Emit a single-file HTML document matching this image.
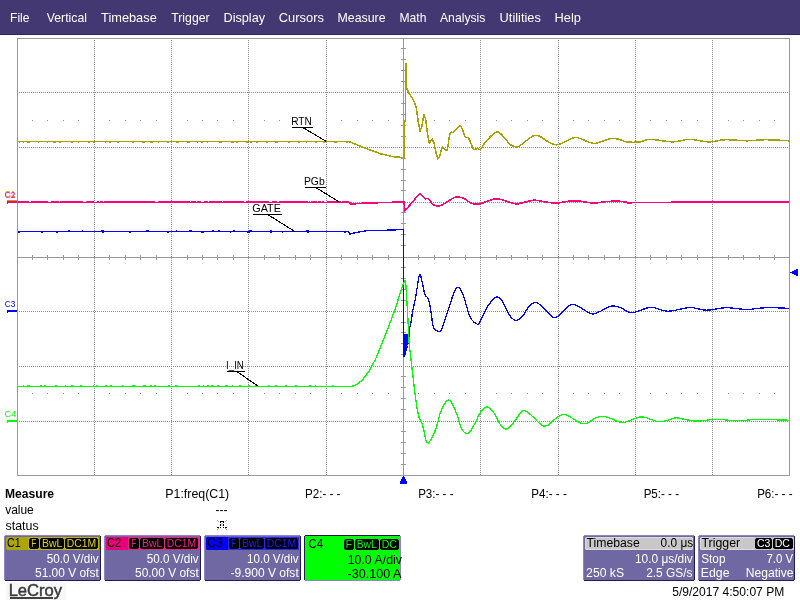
<!DOCTYPE html>
<html><head><meta charset="utf-8"><style>
html,body{margin:0;padding:0;background:#fff;width:800px;height:600px;overflow:hidden}
svg{position:absolute;left:0;top:0;display:block;will-change:transform}
text{font-family:"Liberation Sans", sans-serif;white-space:pre}
</style></head><body>
<svg width="800" height="600" viewBox="0 0 800 600">
<rect x="0" y="0" width="800" height="34" fill="#433872"/>
<rect x="0" y="34" width="800" height="1" fill="#2d2264"/>
<path d="M94.5 40V475 M171.5 40V475 M248.5 40V475 M326.5 40V475 M480.5 40V475 M558.5 40V475 M635.5 40V475 M712.5 40V475 M19 92.5H789 M19 147.5H789 M19 202.5H789 M19 311.5H789 M19 366.5H789 M19 421.5H789" stroke="#8a8a8a" stroke-width="1" stroke-dasharray="1 1" fill="none"/>
<path d="M32 120h1v1h-1z M47 120h1v1h-1z M63 120h1v1h-1z M78 120h1v1h-1z M109 120h1v1h-1z M125 120h1v1h-1z M140 120h1v1h-1z M156 120h1v1h-1z M187 120h1v1h-1z M202 120h1v1h-1z M217 120h1v1h-1z M233 120h1v1h-1z M264 120h1v1h-1z M279 120h1v1h-1z M295 120h1v1h-1z M310 120h1v1h-1z M341 120h1v1h-1z M357 120h1v1h-1z M372 120h1v1h-1z M388 120h1v1h-1z M418 120h1v1h-1z M434 120h1v1h-1z M449 120h1v1h-1z M465 120h1v1h-1z M496 120h1v1h-1z M511 120h1v1h-1z M527 120h1v1h-1z M542 120h1v1h-1z M573 120h1v1h-1z M588 120h1v1h-1z M604 120h1v1h-1z M619 120h1v1h-1z M650 120h1v1h-1z M666 120h1v1h-1z M681 120h1v1h-1z M697 120h1v1h-1z M728 120h1v1h-1z M743 120h1v1h-1z M759 120h1v1h-1z M774 120h1v1h-1z M32 393h1v1h-1z M47 393h1v1h-1z M63 393h1v1h-1z M78 393h1v1h-1z M109 393h1v1h-1z M125 393h1v1h-1z M140 393h1v1h-1z M156 393h1v1h-1z M187 393h1v1h-1z M202 393h1v1h-1z M217 393h1v1h-1z M233 393h1v1h-1z M264 393h1v1h-1z M279 393h1v1h-1z M295 393h1v1h-1z M310 393h1v1h-1z M341 393h1v1h-1z M357 393h1v1h-1z M372 393h1v1h-1z M388 393h1v1h-1z M418 393h1v1h-1z M434 393h1v1h-1z M449 393h1v1h-1z M465 393h1v1h-1z M496 393h1v1h-1z M511 393h1v1h-1z M527 393h1v1h-1z M542 393h1v1h-1z M573 393h1v1h-1z M588 393h1v1h-1z M604 393h1v1h-1z M619 393h1v1h-1z M650 393h1v1h-1z M666 393h1v1h-1z M681 393h1v1h-1z M697 393h1v1h-1z M728 393h1v1h-1z M743 393h1v1h-1z M759 393h1v1h-1z M774 393h1v1h-1z" fill="#8a8a8a"/>
<rect x="403" y="38" width="1" height="437" fill="#999"/>
<rect x="17" y="257" width="772" height="1" fill="#999"/>
<path d="M32 255h1v5h-1z M47 255h1v5h-1z M63 255h1v5h-1z M78 255h1v5h-1z M109 255h1v5h-1z M125 255h1v5h-1z M140 255h1v5h-1z M156 255h1v5h-1z M187 255h1v5h-1z M202 255h1v5h-1z M217 255h1v5h-1z M233 255h1v5h-1z M264 255h1v5h-1z M279 255h1v5h-1z M295 255h1v5h-1z M310 255h1v5h-1z M341 255h1v5h-1z M357 255h1v5h-1z M372 255h1v5h-1z M388 255h1v5h-1z M418 255h1v5h-1z M434 255h1v5h-1z M449 255h1v5h-1z M465 255h1v5h-1z M496 255h1v5h-1z M511 255h1v5h-1z M527 255h1v5h-1z M542 255h1v5h-1z M573 255h1v5h-1z M588 255h1v5h-1z M604 255h1v5h-1z M619 255h1v5h-1z M650 255h1v5h-1z M666 255h1v5h-1z M681 255h1v5h-1z M697 255h1v5h-1z M728 255h1v5h-1z M743 255h1v5h-1z M759 255h1v5h-1z M774 255h1v5h-1z M401 48h5v1h-5z M401 59h5v1h-5z M401 70h5v1h-5z M401 81h5v1h-5z M401 103h5v1h-5z M401 114h5v1h-5z M401 125h5v1h-5z M401 136h5v1h-5z M401 158h5v1h-5z M401 169h5v1h-5z M401 180h5v1h-5z M401 190h5v1h-5z M401 212h5v1h-5z M401 223h5v1h-5z M401 234h5v1h-5z M401 245h5v1h-5z M401 267h5v1h-5z M401 278h5v1h-5z M401 289h5v1h-5z M401 300h5v1h-5z M401 322h5v1h-5z M401 332h5v1h-5z M401 343h5v1h-5z M401 354h5v1h-5z M401 376h5v1h-5z M401 387h5v1h-5z M401 398h5v1h-5z M401 409h5v1h-5z M401 431h5v1h-5z M401 442h5v1h-5z M401 453h5v1h-5z M401 464h5v1h-5z" fill="#999"/>
<rect x="17.5" y="38.5" width="772" height="437" fill="none" stroke="#999" stroke-width="1"/>
<rect x="18" y="141" width="332" height="1" fill="#aaa000"/><path d="M19 142h1v1h-1z M23 142h1v1h-1z M27 142h3v1h-3z M38 142h1v1h-1z M47 142h1v1h-1z M53 142h3v1h-3z M59 142h2v1h-2z M71 142h2v1h-2z M78 142h1v1h-1z M88 142h2v1h-2z M93 142h2v1h-2z M105 142h1v1h-1z M109 142h2v1h-2z M117 142h2v1h-2z M132 142h2v1h-2z M142 142h3v1h-3z M150 142h3v1h-3z M158 142h1v1h-1z M167 142h2v1h-2z M176 142h3v1h-3z M187 142h3v1h-3z M197 142h1v1h-1z M201 142h2v1h-2z M207 142h1v1h-1z M219 142h3v1h-3z M231 142h3v1h-3z M236 142h2v1h-2z M246 142h2v1h-2z M250 142h2v1h-2z M256 142h2v1h-2z M266 142h2v1h-2z M275 142h3v1h-3z M288 142h2v1h-2z M298 142h2v1h-2z M306 142h1v1h-1z M315 142h2v1h-2z M323 142h2v1h-2z M334 142h3v1h-3z M346 142h2v1h-2z" fill="#aaa000"/>
<polyline points="349.70,141.80 361.90,146.90 380.60,153.80 393.75,156.80 403.50,157.50 404.50,157.50 404.50,121.00 405.50,121.00 405.50,64.00 406.20,64.00 406.20,82.00 406.80,88.75 409.70,94.40 413.40,100.00 416.25,107.50 418.10,120.60 420.00,131.00 421.90,126.25 423.75,114.60 425.60,118.75 427.50,133.75 429.40,143.10 432.20,139.00 434.00,143.00 436.00,152.50 437.80,159.00 439.70,156.25 442.10,147.40 442.67,147.03 443.23,147.46 443.79,148.20 444.40,148.75 445.06,149.41 445.77,150.31 446.49,150.66 447.20,149.70 447.88,146.57 448.54,141.90 449.23,137.14 450.00,133.75 450.83,132.39 451.70,132.18 452.66,132.30 453.75,131.90 455.10,130.56 456.63,128.79 458.14,127.16 459.40,126.25 460.30,126.23 460.98,126.80 461.57,127.77 462.20,129.00 462.88,130.69 463.54,132.86 464.23,134.99 465.00,136.60 465.85,137.26 466.76,137.33 467.73,137.48 468.75,138.40 469.86,140.63 471.06,143.70 472.26,146.71 473.40,148.75 474.46,149.41 475.49,149.22 476.47,148.74 477.40,148.50 478.20,148.83 478.91,149.38 479.66,149.69 480.60,149.30 481.67,147.97 482.84,145.99 484.23,143.69 486.00,141.40 488.36,138.79 491.18,135.83 494.05,133.27 496.60,131.90 498.70,132.14 500.56,133.49 502.30,135.38 504.00,137.20 505.65,139.03 507.20,141.10 508.75,143.07 510.40,144.60 512.18,145.68 514.03,146.47 515.92,146.86 517.80,146.75 519.63,145.95 521.46,144.57 523.31,142.94 525.25,141.40 527.35,139.85 529.57,138.17 531.75,136.68 533.75,135.70 535.46,135.35 536.99,135.44 538.48,135.86 540.10,136.50 541.90,137.48 543.78,138.80 545.71,140.20 547.60,141.40 549.48,142.42 551.37,143.37 553.22,144.14 555.00,144.60 556.52,144.76 557.87,144.67 559.38,144.30 561.40,143.60 564.28,142.29 567.75,140.47 571.22,138.72 574.10,137.60 576.04,137.30 577.43,137.51 578.75,138.04 580.50,138.70 582.95,139.63 585.80,140.87 588.65,142.07 591.10,142.90 592.85,143.29 594.17,143.43 595.55,143.29 597.50,142.90 600.34,142.03 603.74,140.76 607.21,139.51 610.25,138.70 612.67,138.46 614.77,138.57 616.72,138.89 618.75,139.30 620.78,139.89 622.73,140.69 624.83,141.47 627.25,142.00 630.20,142.23 633.52,142.28 636.89,142.17 640.00,141.90 642.45,141.30 644.50,140.43 646.86,139.64 650.20,139.30 655.05,139.71 660.93,140.60 667.01,141.49 672.50,141.90 677.07,141.49 681.20,140.60 685.23,139.71 689.50,139.30 694.18,139.70 699.05,140.58 703.92,141.47 708.60,141.90 712.90,141.61 716.96,140.89 721.10,140.13 725.60,139.70 730.67,139.79 736.12,140.18 741.63,140.60 746.90,140.80 751.74,140.63 756.34,140.25 761.00,139.87 766.00,139.70 772.01,139.85 778.69,140.18 784.78,140.55 789.00,140.80" fill="none" stroke="#aaa000" stroke-width="1.5" stroke-linejoin="round" shape-rendering="crispEdges"/>
<rect x="18" y="201" width="331" height="2" fill="#ff0080"/><path d="M29 201h2v1h-2z M48 201h3v1h-3z M59 201h1v1h-1z M83 201h3v1h-3z M94 201h3v1h-3z M99 201h1v1h-1z M103 201h1v1h-1z M155 201h3v1h-3z M190 201h1v1h-1z M196 201h1v1h-1z M201 201h3v1h-3z M208 201h1v1h-1z M222 201h1v1h-1z M244 201h2v1h-2z M269 201h3v1h-3z M277 201h2v1h-2z M308 201h1v1h-1z M310 201h1v1h-1z M317 201h1v1h-1z M321 201h1v1h-1z M324 201h3v1h-3z M341 201h1v1h-1z" fill="#ffffff"/>
<polyline points="348.75,202.00 351.00,204.00 367.50,203.00 403.00,202.00 404.00,202.00 405.00,210.90 418.10,195.30 419.52,193.92 420.14,193.62 420.46,193.93 421.00,194.40 421.87,195.16 422.80,196.36 423.76,197.61 424.70,198.50 425.58,198.75 426.43,198.63 427.34,198.57 428.40,199.00 429.64,200.24 431.02,201.99 432.49,203.75 434.00,205.00 435.54,205.66 437.13,205.99 438.80,205.97 440.60,205.60 442.62,204.71 444.80,203.35 446.98,201.87 449.00,200.60 450.76,199.54 452.36,198.53 453.93,197.71 455.60,197.20 457.41,197.03 459.29,197.14 461.20,197.51 463.10,198.10 465.01,199.09 466.96,200.42 468.84,201.77 470.60,202.80 472.21,203.40 473.71,203.77 475.10,203.97 476.40,204.10 477.41,204.20 478.20,204.22 479.13,204.08 480.60,203.70 482.93,202.93 485.85,201.84 488.81,200.74 491.25,199.90 492.91,199.37 494.13,199.02 495.24,198.83 496.60,198.80 498.23,198.95 499.97,199.27 501.88,199.73 504.00,200.30 506.57,201.10 509.49,202.09 512.32,203.04 514.60,203.70 515.97,204.00 516.75,204.08 517.53,203.97 518.90,203.70 521.21,203.17 524.07,202.39 527.00,201.60 529.50,201.00 531.25,200.62 532.57,200.35 533.96,200.23 535.90,200.30 538.73,200.66 542.12,201.27 545.57,201.91 548.60,202.40 550.92,202.72 552.84,202.96 554.77,203.07 557.10,203.00 560.10,202.64 563.50,202.04 566.90,201.42 569.90,201.00 572.18,200.81 574.02,200.75 575.93,200.81 578.40,201.00 581.72,201.44 585.56,202.09 589.54,202.69 593.25,203.00 596.59,202.87 599.76,202.45 602.86,201.96 606.00,201.60 609.19,201.38 612.38,201.21 615.56,201.13 618.75,201.20 622.04,201.53 625.39,202.06 628.61,202.58 631.50,202.90 630.63,202.93 627.23,202.78 628.10,202.56 640.00,202.40 670.86,202.30 715.03,202.22 758.93,202.15 789.00,202.10" fill="none" stroke="#ff0080" stroke-width="1.6" stroke-linejoin="round" shape-rendering="crispEdges"/>
<rect x="18" y="231" width="331" height="1" fill="#0000ff"/><path d="M68 230h2v1h-2z M82 230h1v1h-1z M101 230h3v1h-3z M146 230h3v1h-3z M176 230h1v1h-1z M189 230h3v1h-3z M212 230h2v1h-2z M218 230h2v1h-2z M233 230h2v1h-2z M249 230h3v1h-3z M270 230h2v1h-2z M306 230h3v1h-3z" fill="#0000ff"/>
<rect x="18" y="231" width="331" height="1" fill="#0000ff"/><path d="M18 232h2v1h-2z M41 232h2v1h-2z M56 232h2v1h-2z M102 232h2v1h-2z M129 232h2v1h-2z M167 232h2v1h-2z M201 232h3v1h-3z M230 232h1v1h-1z M247 232h3v1h-3z M270 232h2v1h-2z M282 232h1v1h-1z M307 232h2v1h-2z M344 232h2v1h-2z" fill="#0000ff"/>
<polyline points="348.75,232.00 349.70,234.25 356.25,232.40 367.50,230.70 395.60,229.90 403.50,229.30 403.90,356.50 404.50,356.50 406.00,350.50 407.50,345.50 409.00,337.50 409.00,334.50 409.70,334.50 409.70,327.20 410.80,323.80 412.50,312.20 413.09,309.24 413.75,306.25 414.41,303.31 415.00,300.50 415.46,298.00 415.85,295.71 416.24,293.31 416.70,290.50 417.29,286.73 417.96,282.32 418.62,278.26 419.20,275.50 419.66,274.43 420.05,274.49 420.41,275.26 420.80,276.30 421.20,277.63 421.59,279.43 422.02,281.54 422.50,283.80 423.05,286.40 423.65,289.34 424.30,292.19 425.00,294.50 425.79,295.90 426.65,296.70 427.51,297.53 428.30,299.00 428.98,301.27 429.60,304.00 430.19,307.11 430.80,310.50 431.40,314.58 431.99,319.25 432.61,323.67 433.30,327.00 434.07,328.86 434.90,329.76 435.78,330.15 436.70,330.50 437.69,331.01 438.75,331.41 439.81,331.43 440.80,330.80 441.67,329.41 442.47,327.41 443.29,324.95 444.20,322.20 445.19,319.18 446.22,315.81 447.38,312.09 448.75,308.00 450.45,302.82 452.39,296.80 454.39,291.38 456.25,288.00 457.87,287.05 459.38,287.77 460.88,289.85 462.50,293.00 464.29,298.00 466.17,304.72 468.10,311.52 470.00,316.75 471.99,320.01 474.06,322.16 475.98,323.48 477.50,324.25 478.39,324.51 478.83,324.11 479.23,323.10 480.00,321.50 481.38,318.93 483.11,315.50 484.85,312.01 486.25,309.25 487.08,307.60 487.58,306.57 488.10,305.70 489.00,304.50 490.47,302.58 492.30,300.29 494.22,298.25 496.00,297.10 497.55,296.94 499.00,297.46 500.45,298.65 502.00,300.50 503.68,303.44 505.44,307.34 507.23,311.31 509.00,314.50 510.75,316.82 512.50,318.69 514.25,319.96 516.00,320.50 517.77,320.12 519.56,318.94 521.32,317.29 523.00,315.50 524.55,313.41 526.00,310.94 527.45,308.49 529.00,306.50 530.66,304.91 532.38,303.56 534.16,302.68 536.00,302.50 537.91,303.24 539.88,304.71 541.91,306.58 544.00,308.50 546.25,310.71 548.62,313.27 550.94,315.61 553.00,317.10 554.64,317.59 556.00,317.40 557.36,316.66 559.00,315.50 561.11,313.61 563.50,311.02 565.89,308.43 568.00,306.50 569.66,305.37 571.06,304.69 572.43,304.41 574.00,304.50 575.81,305.05 577.75,306.04 579.81,307.26 582.00,308.50 584.41,309.93 587.00,311.60 589.59,313.07 592.00,313.90 594.07,313.92 595.94,313.38 597.84,312.49 600.00,311.50 602.59,310.20 605.44,308.56 608.32,307.04 611.00,306.10 613.39,305.90 615.62,306.18 617.80,306.77 620.00,307.50 622.30,308.54 624.62,309.90 626.89,311.21 629.00,312.10 630.70,312.49 632.11,312.58 633.72,312.37 636.00,311.90 639.19,310.86 643.00,309.34 647.12,307.95 651.25,307.30 655.28,307.88 659.38,309.25 663.66,310.65 668.25,311.30 673.36,310.75 678.88,309.48 684.39,308.18 689.50,307.50 694.00,307.84 698.13,308.77 702.20,309.74 706.50,310.20 711.08,309.84 715.78,309.01 720.62,308.15 725.60,307.70 730.82,307.91 736.25,308.50 741.68,309.12 746.90,309.40 751.74,309.16 756.34,308.62 761.00,308.04 766.00,307.70 772.01,307.70 778.69,307.89 784.78,308.14 789.00,308.30" fill="none" stroke="#0000ff" stroke-width="1.3" stroke-linejoin="round" shape-rendering="crispEdges"/>
<path d="M404 334H409V337L407.5 345L406 350L405 356H404Z" fill="#0000ff"/>
<rect x="18" y="386" width="335" height="1" fill="#00ff00"/><path d="M23 385h1v1h-1z M27 385h3v1h-3z M40 385h2v1h-2z M44 385h1v1h-1z M55 385h2v1h-2z M65 385h1v1h-1z M71 385h2v1h-2z M80 385h2v1h-2z M93 385h1v1h-1z M96 385h1v1h-1z M105 385h2v1h-2z M110 385h2v1h-2z M122 385h1v1h-1z M132 385h3v1h-3z M143 385h3v1h-3z M150 385h2v1h-2z M154 385h2v1h-2z M168 385h2v1h-2z M175 385h2v1h-2z M198 385h2v1h-2z M203 385h1v1h-1z M207 385h2v1h-2z M211 385h2v1h-2z M217 385h2v1h-2z M225 385h3v1h-3z M232 385h1v1h-1z M239 385h2v1h-2z M248 385h2v1h-2z M255 385h2v1h-2z M268 385h1v1h-1z M275 385h2v1h-2z M285 385h2v1h-2z M295 385h2v1h-2z M309 385h2v1h-2z M315 385h1v1h-1z M332 385h1v1h-1z M352 385h3v1h-3z" fill="#00ff00"/>
<polyline points="352.75,386.50 357.10,384.25 362.50,379.90 369.00,371.25 375.50,359.30 382.00,343.10 388.50,326.80 395.00,309.50 402.60,285.70 404.50,281.00 405.60,281.00 406.50,294.50 407.30,308.80 408.00,320.50 409.30,345.50 410.70,356.50 411.90,367.30 415.20,395.50 415.98,401.19 416.73,406.34 417.52,410.94 418.40,415.00 419.41,418.17 420.50,420.56 421.64,422.88 422.75,425.80 423.81,430.13 424.86,435.30 425.94,439.94 427.10,442.70 428.40,442.93 429.80,441.44 431.20,439.08 432.50,436.70 433.65,434.42 434.71,431.82 435.74,428.94 436.80,425.80 437.82,422.22 438.80,418.25 439.88,414.28 441.20,410.70 442.87,407.12 444.78,403.49 446.79,400.75 448.75,399.80 450.69,401.29 452.66,404.60 454.56,408.76 456.30,412.80 457.79,416.92 459.09,421.49 460.36,425.78 461.75,429.10 463.30,431.37 464.93,432.93 466.60,433.68 468.25,433.50 469.90,432.07 471.57,429.56 473.20,426.56 474.75,423.70 476.16,420.93 477.48,418.00 478.79,415.19 480.20,412.80 481.75,410.74 483.38,408.92 485.05,407.59 486.70,407.00 488.32,407.28 489.95,408.27 491.57,409.81 493.20,411.75 494.82,414.38 496.45,417.68 498.07,421.00 499.70,423.70 501.32,425.76 502.95,427.48 504.57,428.66 506.20,429.10 507.78,428.66 509.32,427.48 510.93,425.76 512.70,423.70 514.80,420.91 517.13,417.43 519.40,414.10 521.30,411.75 522.65,410.66 523.63,410.37 524.55,410.60 525.70,411.10 527.10,411.85 528.62,412.98 530.30,414.42 532.20,416.10 534.50,418.34 537.12,421.06 539.70,423.63 541.90,425.40 543.62,426.10 545.04,426.12 546.24,425.77 547.30,425.40 548.04,425.12 548.48,424.73 549.01,424.14 550.00,423.25 551.68,421.84 553.81,420.02 556.06,418.19 558.10,416.75 559.84,415.72 561.45,414.92 563.01,414.42 564.60,414.30 566.15,414.64 567.64,415.39 569.24,416.39 571.10,417.50 573.40,418.90 576.00,420.60 578.60,422.18 580.90,423.25 582.72,423.70 584.26,423.74 585.74,423.45 587.40,422.90 589.35,421.92 591.45,420.53 593.55,419.11 595.50,418.00 597.24,417.28 598.85,416.77 600.41,416.45 602.00,416.30 603.47,416.31 604.84,416.49 606.42,416.87 608.50,417.50 611.37,418.64 614.80,420.17 618.33,421.60 621.50,422.40 624.20,422.32 626.68,421.69 629.00,420.81 631.25,420.00 633.44,419.23 635.53,418.38 637.52,417.60 639.40,417.10 641.07,416.89 642.55,416.89 644.09,417.10 645.90,417.50 648.14,418.25 650.65,419.31 653.21,420.36 655.60,421.10 657.67,421.47 659.57,421.63 661.52,421.58 663.75,421.30 666.51,420.63 669.63,419.64 672.64,418.65 675.10,418.00 676.50,417.79 677.20,417.82 678.08,418.05 680.00,418.40 683.34,419.02 687.59,419.89 692.27,420.69 696.90,421.10 701.37,420.88 705.94,420.25 710.66,419.58 715.60,419.25 720.92,419.47 726.55,419.99 732.17,420.53 737.50,420.80 742.08,420.63 746.20,420.20 750.65,419.75 756.25,419.50 764.22,419.55 773.80,419.77 782.79,420.03 789.00,420.20" fill="none" stroke="#00ff00" stroke-width="1.3" stroke-linejoin="round" shape-rendering="crispEdges"/>
<path d="M292 127.5H313M303.6 128L325.75 141.1" stroke="#000" stroke-width="1.1" fill="none" shape-rendering="crispEdges"/>
<path d="M305 187.5H326M315.75 187.5L339 201.8" stroke="#000" stroke-width="1.1" fill="none" shape-rendering="crispEdges"/>
<path d="M253 214.5H282M267.75 214.5L294.75 231.5" stroke="#000" stroke-width="1.1" fill="none" shape-rendering="crispEdges"/>
<path d="M227 371.5H245M237.5 372L258.5 386.5" stroke="#000" stroke-width="1.1" fill="none" shape-rendering="crispEdges"/>
<path d="M7 200H17V202H8V203H7Z" fill="#b0a800"/>
<path d="M7 201H17V203H8V204H7Z" fill="#ff0080"/>
<path d="M7 310H17V312H8V313H7Z" fill="#0000ff"/>
<path d="M7 420H17V422H8V423H7Z" fill="#00ff00"/>
<path d="M403 476h1v1h-1zM402 477h3v2h-3zM401 479h5v2h-5zM400 481h7v3h-7z" fill="#0000ff"/>
<path d="M790 272h2v1h-2zM792 271h2v3h-2zM794 270h2v5h-2zM796 269h2v7h-2z" fill="#0000ff"/>
<path d="M217 520h1v1h-1z M218 521h1v1h-1z M226 520h1v1h-1z M225 521h1v1h-1z M218 528h1v1h-1z M217 529h1v1h-1z M225 528h1v1h-1z M226 529h1v1h-1z" fill="#b8b8b8"/>
<path d="M221 523h2v3h-2z" fill="#dddddd"/>
<path d="M220 521h4v1h-4z M220 522h1v1h-1z M223 522h1v1h-1z M220 524h1v2h-1z M223 524h1v2h-1z M220 527h1v1h-1z M223 527h1v1h-1z M217 527h2v1h-2z M225 527h2v1h-2z" fill="#000"/>
<rect x="5" y="536" width="95" height="44" fill="#7068a2"/><rect x="5" y="535" width="95" height="1" fill="#8e84c6"/><rect x="4" y="536" width="1" height="44" fill="#8e84c6"/><rect x="100" y="536" width="1" height="44" fill="#221a52"/><rect x="5" y="580" width="95" height="1" fill="#221a52"/>
<path d="M7 537H98L99 538V549L98 550H7L6 549V538Z" fill="#aea600"/>
<rect x="28" y="537" width="71" height="13" fill="#bdb500"/>
<path d="M30.5 538H37.5L39 539.5V547.5L37.5 549H30.5L29 547.5V539.5Z" fill="#000"/>
<path d="M41.5 538H62.5L64 539.5V547.5L62.5 549H41.5L40 547.5V539.5Z" fill="#000"/>
<path d="M66.5 538H96.5L98 539.5V547.5L96.5 549H66.5L65 547.5V539.5Z" fill="#000"/>
<rect x="105" y="536" width="95" height="44" fill="#7068a2"/><rect x="105" y="535" width="95" height="1" fill="#8e84c6"/><rect x="104" y="536" width="1" height="44" fill="#8e84c6"/><rect x="200" y="536" width="1" height="44" fill="#221a52"/><rect x="105" y="580" width="95" height="1" fill="#221a52"/>
<path d="M107 537H198L199 538V549L198 550H107L106 549V538Z" fill="#e8007a"/>
<rect x="128" y="537" width="71" height="13" fill="#f0208a"/>
<path d="M130.5 538H137.5L139 539.5V547.5L137.5 549H130.5L129 547.5V539.5Z" fill="#000"/>
<path d="M141.5 538H162.5L164 539.5V547.5L162.5 549H141.5L140 547.5V539.5Z" fill="#000"/>
<path d="M166.5 538H196.5L198 539.5V547.5L196.5 549H166.5L165 547.5V539.5Z" fill="#000"/>
<rect x="205" y="536" width="95" height="44" fill="#7068a2"/><rect x="205" y="535" width="95" height="1" fill="#8e84c6"/><rect x="204" y="536" width="1" height="44" fill="#8e84c6"/><rect x="300" y="536" width="1" height="44" fill="#221a52"/><rect x="205" y="580" width="95" height="1" fill="#221a52"/>
<path d="M207 537H298L299 538V549L298 550H207L206 549V538Z" fill="#0000f4"/>
<rect x="228" y="537" width="71" height="13" fill="#2a2aff"/>
<path d="M230.5 538H237.5L239 539.5V547.5L237.5 549H230.5L229 547.5V539.5Z" fill="#000"/>
<path d="M241.5 538H262.5L264 539.5V547.5L262.5 549H241.5L240 547.5V539.5Z" fill="#000"/>
<path d="M266.5 538H296.5L298 539.5V547.5L296.5 549H266.5L265 547.5V539.5Z" fill="#000"/>
<rect x="305" y="536" width="95" height="44" fill="#00ff00"/><rect x="305" y="535" width="95" height="1" fill="#221a52"/><rect x="304" y="536" width="1" height="44" fill="#221a52"/><rect x="400" y="536" width="1" height="44" fill="#8e84c6"/><rect x="305" y="580" width="95" height="1" fill="#8e84c6"/>
<path d="M345.5 539H352.5L354 540.5V548.5L352.5 550H345.5L344 548.5V540.5Z" fill="#000"/>
<path d="M356.5 539H377.5L379 540.5V548.5L377.5 550H356.5L355 548.5V540.5Z" fill="#000"/>
<path d="M381.5 539H397.5L399 540.5V548.5L397.5 550H381.5L380 548.5V540.5Z" fill="#000"/>
<rect x="584" y="536" width="110" height="44" fill="#7068a2"/><rect x="584" y="535" width="110" height="1" fill="#8e84c6"/><rect x="583" y="536" width="1" height="44" fill="#8e84c6"/><rect x="694" y="536" width="1" height="44" fill="#221a52"/><rect x="584" y="580" width="110" height="1" fill="#221a52"/>
<path d="M586 537H692L693 538V549L692 550H586L585 549V538Z" fill="#dcdcdc"/>
<rect x="586" y="538" width="106" height="11" fill="#c8c8c8"/>
<rect x="699" y="536" width="95" height="44" fill="#7068a2"/><rect x="699" y="535" width="95" height="1" fill="#8e84c6"/><rect x="698" y="536" width="1" height="44" fill="#8e84c6"/><rect x="794" y="536" width="1" height="44" fill="#221a52"/><rect x="699" y="580" width="95" height="1" fill="#221a52"/>
<path d="M701 537H792L793 538V549L792 550H701L700 549V538Z" fill="#dcdcdc"/>
<rect x="701" y="538" width="91" height="11" fill="#c8c8c8"/>
<rect x="754" y="537" width="40" height="13" fill="#c8c8c8"/>
<path d="M756.5 538H770.5L772 539.5V547.5L770.5 549H756.5L755 547.5V539.5Z" fill="#000"/>
<path d="M774.5 538H791.5L793 539.5V547.5L791.5 549H774.5L773 547.5V539.5Z" fill="#000"/>
<rect x="6" y="583" width="60" height="17" fill="#f7f7f7"/>
<rect x="10" y="597" width="43" height="2" fill="#404040"/>
<text x="10.07" y="22" font-size="13" font-weight="normal" fill="#ffffff" textLength="19.42" lengthAdjust="spacingAndGlyphs">File</text>
<text x="46.75" y="22" font-size="13" font-weight="normal" fill="#ffffff" textLength="40.24" lengthAdjust="spacingAndGlyphs">Vertical</text>
<text x="101.05" y="22" font-size="13" font-weight="normal" fill="#ffffff" textLength="55.72" lengthAdjust="spacingAndGlyphs">Timebase</text>
<text x="171.21" y="22" font-size="13" font-weight="normal" fill="#ffffff" textLength="38.41" lengthAdjust="spacingAndGlyphs">Trigger</text>
<text x="223.53" y="22" font-size="13" font-weight="normal" fill="#ffffff" textLength="41.47" lengthAdjust="spacingAndGlyphs">Display</text>
<text x="278.81" y="22" font-size="13" font-weight="normal" fill="#ffffff" textLength="45.09" lengthAdjust="spacingAndGlyphs">Cursors</text>
<text x="337.55" y="22" font-size="13" font-weight="normal" fill="#ffffff" textLength="47.95" lengthAdjust="spacingAndGlyphs">Measure</text>
<text x="399.47" y="22" font-size="13" font-weight="normal" fill="#ffffff" textLength="26.90" lengthAdjust="spacingAndGlyphs">Math</text>
<text x="440.00" y="22" font-size="13" font-weight="normal" fill="#ffffff" textLength="45.37" lengthAdjust="spacingAndGlyphs">Analysis</text>
<text x="499.61" y="22" font-size="13" font-weight="normal" fill="#ffffff" textLength="41.28" lengthAdjust="spacingAndGlyphs">Utilities</text>
<text x="554.51" y="22" font-size="13" font-weight="normal" fill="#ffffff" textLength="26.41" lengthAdjust="spacingAndGlyphs">Help</text>
<text x="291.17" y="125" font-size="11" font-weight="normal" fill="#000" textLength="20.71" lengthAdjust="spacingAndGlyphs">RTN</text>
<text x="303.95" y="185" font-size="11" font-weight="normal" fill="#000" textLength="20.74" lengthAdjust="spacingAndGlyphs">PGb</text>
<text x="252.26" y="212" font-size="11" font-weight="normal" fill="#000" textLength="28.67" lengthAdjust="spacingAndGlyphs">GATE</text>
<text x="226.12" y="369" font-size="11" font-weight="normal" fill="#000" textLength="17.72" lengthAdjust="spacingAndGlyphs">I_IN</text>
<text x="4.65" y="197" font-size="9.6" font-weight="normal" fill="#b0a800" textLength="10.73" lengthAdjust="spacingAndGlyphs">C1</text>
<text x="4.65" y="198" font-size="9.6" font-weight="normal" fill="#ff0080" textLength="10.73" lengthAdjust="spacingAndGlyphs">C2</text>
<text x="4.65" y="307" font-size="9.6" font-weight="normal" fill="#0000ff" textLength="10.64" lengthAdjust="spacingAndGlyphs">C3</text>
<text x="4.62" y="416.5" font-size="9.6" font-weight="normal" fill="#00ff00" textLength="11.60" lengthAdjust="spacingAndGlyphs">C4</text>
<text x="4.99" y="498" font-size="12" font-weight="bold" fill="#000" textLength="49.13" lengthAdjust="spacingAndGlyphs">Measure</text>
<text x="5.20" y="514" font-size="12" font-weight="normal" fill="#000" textLength="28.57" lengthAdjust="spacingAndGlyphs">value</text>
<text x="5.49" y="530" font-size="12" font-weight="normal" fill="#000" textLength="33.23" lengthAdjust="spacingAndGlyphs">status</text>
<text x="165.32" y="498" font-size="12" font-weight="normal" fill="#000" textLength="63.89" lengthAdjust="spacingAndGlyphs">P1:freq(C1)</text>
<text x="305.03" y="498" font-size="12" font-weight="normal" fill="#000" textLength="35.45" lengthAdjust="spacingAndGlyphs">P2:- - -</text>
<text x="418.13" y="498" font-size="12" font-weight="normal" fill="#000" textLength="35.45" lengthAdjust="spacingAndGlyphs">P3:- - -</text>
<text x="531.33" y="498" font-size="12" font-weight="normal" fill="#000" textLength="35.45" lengthAdjust="spacingAndGlyphs">P4:- - -</text>
<text x="643.63" y="498" font-size="12" font-weight="normal" fill="#000" textLength="35.45" lengthAdjust="spacingAndGlyphs">P5:- - -</text>
<text x="757.13" y="498" font-size="12" font-weight="normal" fill="#000" textLength="35.45" lengthAdjust="spacingAndGlyphs">P6:- - -</text>
<text x="215.50" y="514" font-size="12" font-weight="normal" fill="#000" textLength="12.00" lengthAdjust="spacingAndGlyphs">---</text>
<text x="7.09" y="547" font-size="12.5" font-weight="normal" fill="#000" textLength="13.69" lengthAdjust="spacingAndGlyphs">C1</text>
<text x="46.81" y="563" font-size="12" font-weight="normal" fill="#ffffff" textLength="51.89" lengthAdjust="spacingAndGlyphs">50.0 V/div</text>
<text x="35.00" y="577" font-size="12" font-weight="normal" fill="#ffffff" textLength="63.73" lengthAdjust="spacingAndGlyphs">51.00 V ofst</text>
<text x="31.13" y="547" font-size="11" font-weight="normal" fill="#e0d800" textLength="4.98" lengthAdjust="spacingAndGlyphs">F</text>
<text x="42.04" y="547" font-size="11" font-weight="normal" fill="#e0d800" textLength="20.36" lengthAdjust="spacingAndGlyphs">BwL</text>
<text x="66.85" y="547" font-size="11" font-weight="normal" fill="#e0d800" textLength="29.36" lengthAdjust="spacingAndGlyphs">DC1M</text>
<text x="107.08" y="547" font-size="12.5" font-weight="normal" fill="#000" textLength="13.90" lengthAdjust="spacingAndGlyphs">C2</text>
<text x="146.81" y="563" font-size="12" font-weight="normal" fill="#ffffff" textLength="51.89" lengthAdjust="spacingAndGlyphs">50.0 V/div</text>
<text x="135.00" y="577" font-size="12" font-weight="normal" fill="#ffffff" textLength="63.73" lengthAdjust="spacingAndGlyphs">50.00 V ofst</text>
<text x="131.13" y="547" font-size="11" font-weight="normal" fill="#ff1a8c" textLength="4.98" lengthAdjust="spacingAndGlyphs">F</text>
<text x="142.04" y="547" font-size="11" font-weight="normal" fill="#ff1a8c" textLength="20.36" lengthAdjust="spacingAndGlyphs">BwL</text>
<text x="166.85" y="547" font-size="11" font-weight="normal" fill="#ff1a8c" textLength="29.36" lengthAdjust="spacingAndGlyphs">DC1M</text>
<text x="207.01" y="547" font-size="12.5" font-weight="normal" fill="#000" textLength="15.74" lengthAdjust="spacingAndGlyphs">C3</text>
<text x="247.03" y="563" font-size="12" font-weight="normal" fill="#ffffff" textLength="51.67" lengthAdjust="spacingAndGlyphs">10.0 V/div</text>
<text x="230.60" y="577" font-size="12" font-weight="normal" fill="#ffffff" textLength="68.13" lengthAdjust="spacingAndGlyphs">-9.900 V ofst</text>
<text x="231.13" y="547" font-size="11" font-weight="normal" fill="#1a1aff" textLength="4.98" lengthAdjust="spacingAndGlyphs">F</text>
<text x="242.04" y="547" font-size="11" font-weight="normal" fill="#1a1aff" textLength="20.36" lengthAdjust="spacingAndGlyphs">BwL</text>
<text x="266.85" y="547" font-size="11" font-weight="normal" fill="#1a1aff" textLength="29.36" lengthAdjust="spacingAndGlyphs">DC1M</text>
<text x="308.45" y="548" font-size="12.5" font-weight="normal" fill="#000" textLength="14.67" lengthAdjust="spacingAndGlyphs">C4</text>
<text x="345.72" y="548" font-size="11" font-weight="normal" fill="#00ff00" textLength="5.85" lengthAdjust="spacingAndGlyphs">F</text>
<text x="356.65" y="548" font-size="11" font-weight="normal" fill="#00ff00" textLength="20.15" lengthAdjust="spacingAndGlyphs">BwL</text>
<text x="381.64" y="548" font-size="11" font-weight="normal" fill="#00ff00" textLength="15.19" lengthAdjust="spacingAndGlyphs">DC</text>
<text x="347.68" y="564" font-size="12" font-weight="normal" fill="#000" textLength="54.32" lengthAdjust="spacingAndGlyphs">10.0 A/div</text>
<text x="347.48" y="577.5" font-size="12" font-weight="normal" fill="#000" textLength="54.02" lengthAdjust="spacingAndGlyphs">-30.100 A</text>
<text x="586.55" y="547" font-size="12" font-weight="normal" fill="#000" textLength="53.19" lengthAdjust="spacingAndGlyphs">Timebase</text>
<text x="660.60" y="547" font-size="12" font-weight="normal" fill="#000" textLength="32.59" lengthAdjust="spacingAndGlyphs">0.0 μs</text>
<text x="634.91" y="563" font-size="12" font-weight="normal" fill="#fff" textLength="57.89" lengthAdjust="spacingAndGlyphs">10.0 μs/div</text>
<text x="586.14" y="577" font-size="12" font-weight="normal" fill="#fff" textLength="37.87" lengthAdjust="spacingAndGlyphs">250 kS</text>
<text x="646.16" y="577" font-size="12" font-weight="normal" fill="#fff" textLength="46.24" lengthAdjust="spacingAndGlyphs">2.5 GS/s</text>
<text x="701.49" y="547" font-size="12" font-weight="normal" fill="#000" textLength="38.71" lengthAdjust="spacingAndGlyphs">Trigger</text>
<text x="757.02" y="547" font-size="11" font-weight="normal" fill="#fff" textLength="13.37" lengthAdjust="spacingAndGlyphs">C3</text>
<text x="774.64" y="547" font-size="11" font-weight="normal" fill="#fff" textLength="15.19" lengthAdjust="spacingAndGlyphs">DC</text>
<text x="701.21" y="563" font-size="12" font-weight="normal" fill="#fff" textLength="24.26" lengthAdjust="spacingAndGlyphs">Stop</text>
<text x="766.43" y="563" font-size="12" font-weight="normal" fill="#fff" textLength="26.57" lengthAdjust="spacingAndGlyphs">7.0 V</text>
<text x="700.78" y="577" font-size="12" font-weight="normal" fill="#fff" textLength="28.71" lengthAdjust="spacingAndGlyphs">Edge</text>
<text x="745.79" y="577" font-size="12" font-weight="normal" fill="#fff" textLength="47.68" lengthAdjust="spacingAndGlyphs">Negative</text>
<text x="672.20" y="596" font-size="12" font-weight="normal" fill="#000" textLength="112.10" lengthAdjust="spacingAndGlyphs">5/9/2017 4:50:07 PM</text>
<text x="8.66" y="595.5" font-size="16" font-weight="normal" fill="#3a3a3a" textLength="53.34" lengthAdjust="spacingAndGlyphs" stroke="#3a3a3a" stroke-width="0.45">LeCroy</text>
</svg>
</body></html>
